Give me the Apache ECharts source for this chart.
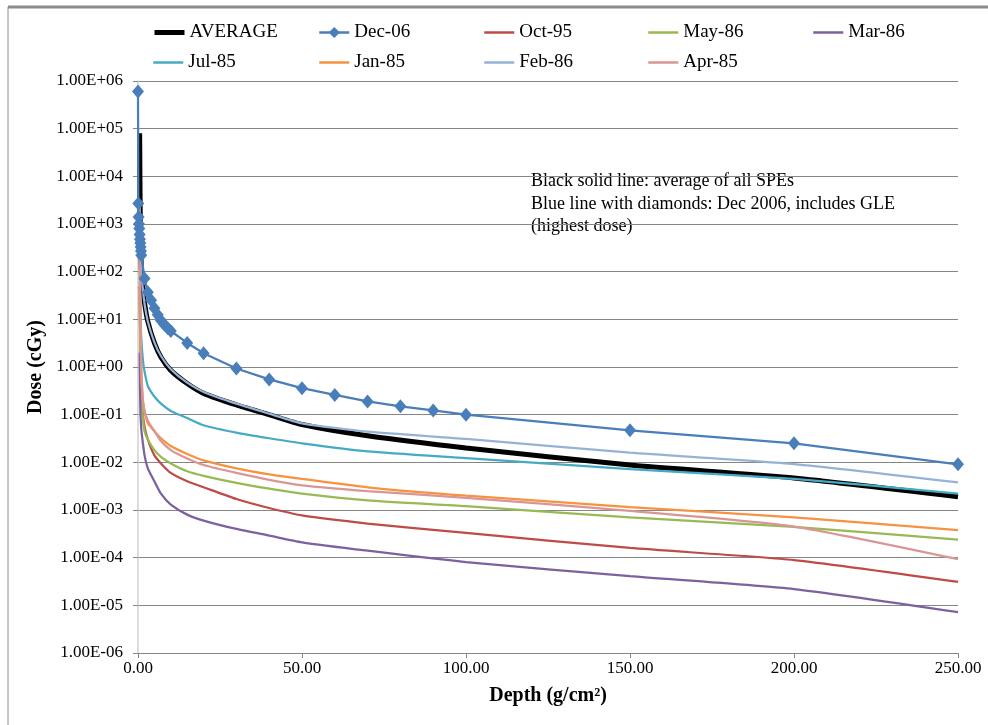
<!DOCTYPE html>
<html><head><meta charset="utf-8">
<script src="https://cdn.jsdelivr.net/npm/echarts@6/dist/echarts.min.js"></script>
<style>html,body{margin:0;padding:0;background:#fff}#c{width:988px;height:725px}</style>
</head><body><div id="c"></div>
<script>
// Depth grid (g/cm2) shared by the smooth-line series
const depths = [0.5, 0.7, 1, 1.5, 2, 3, 5, 7, 10, 15, 20, 30, 40, 50, 70, 100, 150, 200, 250];
// Dec-06 has its own depth points (diamond markers)
const decDepths = [0, 0.1, 0.2, 0.3, 0.4, 0.5, 0.6, 0.7, 0.8, 0.9, 1, 2, 3, 4, 5, 6, 7, 8, 9, 10, 15, 20, 30, 40, 50, 60, 70, 80, 90, 100, 150, 200, 250];
const dec06   = [6.0e5, 2.7e3, 1.4e3, 1.0e3, 800, 600, 480, 400, 330, 270, 220, 72, 37, 25, 17, 12.5, 9.5, 7.8, 6.6, 5.7, 3.2, 1.95, 0.93, 0.55, 0.36, 0.26, 0.19, 0.15, 0.123, 0.1, 0.047, 0.025, 0.0091];

const average = [8e4, 1e3, 130, 45, 22, 9, 3.2, 1.6, 0.85, 0.45, 0.28, 0.16, 0.1, 0.062, 0.036, 0.02, 0.0088, 0.0047, 0.0019];
const oct95   = [50, 3, 0.4, 0.1, 0.055, 0.03, 0.014, 0.0095, 0.006, 0.004, 0.003, 0.0017, 0.0011, 0.00077, 0.00052, 0.00033, 0.00016, 8.9e-5, 3.1e-5];
const may86   = [30, 2, 0.3, 0.08, 0.045, 0.03, 0.018, 0.013, 0.0095, 0.0065, 0.0052, 0.0037, 0.0028, 0.0022, 0.0016, 0.0012, 0.0007, 0.00044, 0.00024];
const mar86   = [2, 0.15, 0.05, 0.025, 0.014, 0.0075, 0.004, 0.0022, 0.0013, 0.0008, 0.0006, 0.0004, 0.00029, 0.00021, 0.00014, 8.1e-5, 4.1e-5, 2.2e-5, 7.2e-6];
const jul85   = [200, 20, 4, 1.4, 0.8, 0.4, 0.24, 0.17, 0.12, 0.085, 0.06, 0.042, 0.032, 0.025, 0.017, 0.0123, 0.0072, 0.0045, 0.0022];
const jan85   = [300, 10, 0.6, 0.2, 0.12, 0.066, 0.045, 0.032, 0.022, 0.015, 0.011, 0.0075, 0.0056, 0.0045, 0.003, 0.002, 0.00115, 0.0007, 0.00038];
const feb86   = [3e3, 500, 100, 42, 21, 9, 3.3, 1.7, 0.9, 0.47, 0.3, 0.17, 0.105, 0.066, 0.044, 0.031, 0.016, 0.0092, 0.0038];
const apr85   = [700, 30, 1, 0.2, 0.12, 0.075, 0.045, 0.028, 0.018, 0.012, 0.0088, 0.006, 0.0043, 0.0033, 0.0025, 0.0018, 0.00096, 0.00045, 9.3e-5];

const names = ['AVERAGE', 'Dec-06', 'Oct-95', 'May-86', 'Mar-86', 'Jul-85', 'Jan-85', 'Feb-86', 'Apr-85'];
const colors = ['#000000', '#4A7EBB', '#BE4B48', '#98B954', '#7D60A0', '#46AAC5', '#F69240', '#95B3D7', '#D99694'];
const lineData = {'AVERAGE': average, 'Oct-95': oct95, 'May-86': may86, 'Mar-86': mar86, 'Jul-85': jul85, 'Jan-85': jan85, 'Feb-86': feb86, 'Apr-85': apr85};

const font = 'Liberation Serif';
const pair = (xs, ys) => xs.map((x, i) => [x, ys[i]]);

const series = names.map((n, i) => {
  if (n === 'Dec-06') {
    return {name: n, type: 'line', data: pair(decDepths, dec06), symbol: 'diamond', symbolSize: [12, 14],
      lineStyle: {width: 2.25, color: colors[i]}, itemStyle: {color: colors[i]}, z: 5};
  }
  return {name: n, type: 'line', data: pair(depths, lineData[n]), symbol: 'none', smooth: 0.2,
    lineStyle: {width: n === 'AVERAGE' ? 5 : 2.25, color: colors[i]}, itemStyle: {color: colors[i]}, z: 3};
});

const colLeft = [152, 318, 483, 647, 812];
const legends = names.map((n, i) => {
  const lg = {
    data: [n], left: colLeft[i < 5 ? i : i - 5], top: i < 5 ? 23 : 53,
    itemWidth: 30, itemHeight: 14, itemGap: 3, padding: 0,
    textStyle: {fontFamily: font, fontSize: 19, color: '#000'},
    lineStyle: {width: n === 'AVERAGE' ? 5 : 2.5, color: colors[i]}
  };
  if (n !== 'Dec-06') lg.itemStyle = {color: 'transparent', borderColor: 'transparent', borderWidth: 0, opacity: 0};
  return lg;
});

const expLabel = v => {
  const e = Math.round(Math.log10(v));
  return '1.00E' + (e < 0 ? '-' : '+') + String(Math.abs(e)).padStart(2, '0');
};

const chart = echarts.init(document.getElementById('c'));
chart.setOption({
  animation: false,
  backgroundColor: '#fff',
  color: colors,
  legend: legends,
  grid: {left: 138, right: 30, top: 81, bottom: 72},
  xAxis: {
    type: 'value', min: 0, max: 250, interval: 50,
    name: 'Depth (g/cm²)', nameLocation: 'middle', nameGap: 33,
    nameTextStyle: {fontFamily: font, fontSize: 20, fontWeight: 'bold', color: '#000'},
    axisLine: {lineStyle: {color: '#868686', width: 1}},
    axisTick: {show: true, length: 5, lineStyle: {color: '#868686'}},
    axisLabel: {formatter: v => v.toFixed(2), fontFamily: font, fontSize: 17, color: '#000', margin: 7},
    splitLine: {show: false}
  },
  yAxis: {
    type: 'log', logBase: 10, min: 1e-6, max: 1e6, interval: 1,
    name: 'Dose (cGy)', nameLocation: 'middle', nameGap: 88, nameRotate: 90,
    nameTextStyle: {fontFamily: font, fontSize: 20, fontWeight: 'bold', color: '#000'},
    axisLine: {show: true, lineStyle: {color: '#d0d0d0', width: 1.5}},
    axisTick: {show: true, length: 5, lineStyle: {color: '#868686'}},
    axisLabel: {formatter: expLabel, fontFamily: font, fontSize: 17, color: '#000', margin: 15},
    splitLine: {show: true, lineStyle: {color: '#868686', width: 1}},
    minorTick: {show: false}
  },
  graphic: [
    {type: 'line', shape: {x1: 8, y1: 7, x2: 988, y2: 7}, style: {stroke: '#8c8c8c', lineWidth: 3}},
    {type: 'line', shape: {x1: 8, y1: 7, x2: 8, y2: 725}, style: {stroke: '#8c8c8c', lineWidth: 1}},
    {type: 'text', left: 531, top: 172, style: {text: 'Black solid line: average of all SPEs', font: '18px "Liberation Serif"', fill: '#000'}},
    {type: 'text', left: 531, top: 195, style: {text: 'Blue line with diamonds: Dec 2006, includes GLE', font: '18px "Liberation Serif"', fill: '#000'}},
    {type: 'text', left: 531, top: 217, style: {text: '(highest dose)', font: '18px "Liberation Serif"', fill: '#000'}}
  ],
  series: series
});
</script>
</body></html>
